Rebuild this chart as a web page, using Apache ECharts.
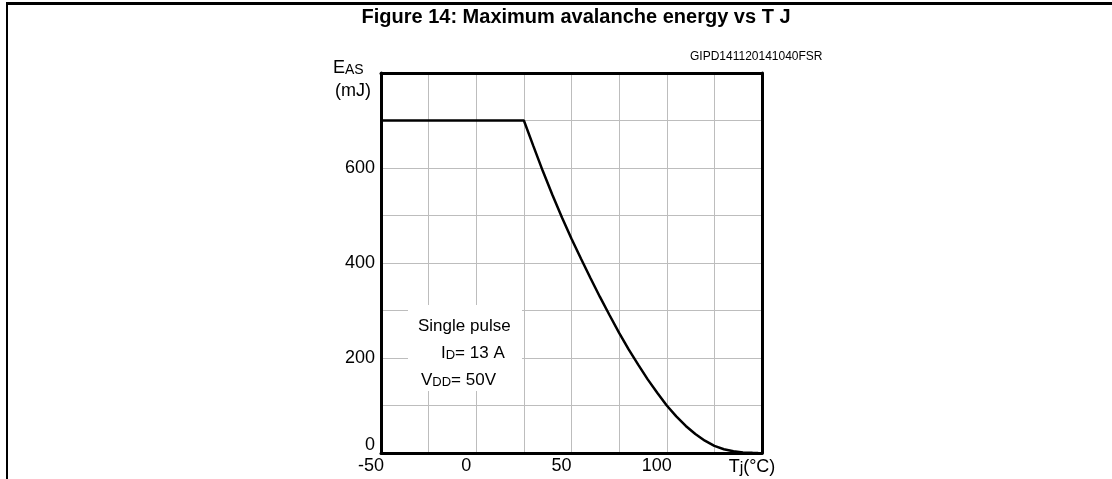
<!DOCTYPE html>
<html><head><meta charset="utf-8">
<script src="https://cdn.jsdelivr.net/npm/echarts@6/dist/echarts.min.js"></script>
<style>html,body{margin:0;padding:0;background:#fff}#c{width:1112px;height:479px}</style>
</head><body><div id="c"></div>
<script>
const tempC = [-50, 25, 30, 35, 40, 45, 50, 55, 60, 65, 70, 75, 80, 85, 90, 95, 100, 105, 110, 115, 120, 125, 130, 135, 140, 145, 148];
const energyMJ = [700, 700, 646, 593, 543, 496, 451, 409, 368, 328, 290, 253, 218, 186, 155, 127, 100, 77, 57, 40, 26, 15, 8, 3.5, 1.2, 0.3, 0];
const xTickLabels = {'-50': '-50', '0': '0', '50': '50', '100': '100'};
const yTickLabels = {'0': '0', '200': '200', '400': '400', '600': '600'};

const F = 'Liberation Sans, Arial, sans-serif';
const FS = 18;
const chart = echarts.init(document.getElementById('c'));
const hidden = {axisTick: {show: false}, axisLabel: {show: false}, splitLine: {show: false}};
chart.setOption({
  animation: false,
  backgroundColor: '#fff',
  title: {
    text: 'Figure 14: Maximum avalanche energy vs T J',
    left: 571, top: 2, textAlign: 'center',
    textStyle: {fontFamily: F, fontWeight: 'bold', fontSize: 20, color: '#000'}
  },
  grid: {left: 381, right: 350, top: 73, bottom: 26},
  xAxis: [{
    type: 'value', min: -50, max: 150, interval: 25,
    axisLine: {show: true, onZero: false, lineStyle: {color: '#000', width: 3}}, axisTick: {show: false},
    splitLine: {show: true, lineStyle: {color: '#bdbdbd', width: 1}},
    axisLabel: {
      margin: 4, fontFamily: F, fontSize: FS, color: '#000',
      formatter: v => v === 150 ? '{t|T}{s|j}{t|(°C)}' : (xTickLabels[String(v)] || ''),
      rich: {t: {fontFamily: F, fontSize: FS, color: '#000'}, s: {fontFamily: F, fontSize: 16, color: '#000', padding: [4, 0, 0, 0]}},
      padding: [0, 20, 0, 0]
    }
  }, Object.assign({type: 'value', min: -50, max: 150, position: 'top', axisLine: {show: true, onZero: false, lineStyle: {color: '#000', width: 3}}}, hidden)],
  yAxis: [{
    type: 'value', min: 0, max: 800, interval: 100,
    axisLine: {show: true, onZero: false, lineStyle: {color: '#000', width: 3}}, axisTick: {show: false},
    splitLine: {show: true, lineStyle: {color: '#bdbdbd', width: 1}},
    axisLabel: {margin: 6, fontFamily: F, fontSize: FS, color: '#000', verticalAlign: 'middle',
      formatter: v => v === 0 ? '{z|0}' : (yTickLabels[String(v)] || ''),
      rich: {z: {fontFamily: F, fontSize: FS, color: '#000', padding: [0, 0, 16, 0]}}}
  }, Object.assign({type: 'value', min: 0, max: 800, position: 'right', axisLine: {show: true, onZero: false, lineStyle: {color: '#000', width: 3}}}, hidden)],
  series: [{
    type: 'line', data: tempC.map((t, i) => [t, energyMJ[i]]),
    symbol: 'none', smooth: false, lineStyle: {color: '#000', width: 2.5}, z: 3
  }],
  graphic: [
    {type: 'line', shape: {x1: 6, y1: 3.5, x2: 1112, y2: 3.5}, style: {stroke: '#000', lineWidth: 3}},
    {type: 'line', shape: {x1: 7, y1: 3, x2: 7, y2: 479}, style: {stroke: '#000', lineWidth: 2}},
    {type: 'text', left: 690, top: 51, style: {text: 'GIPD141120141040FSR', font: '12px ' + F, fill: '#000'}},
    {type: 'text', left: 333, top: 59, style: {rich: {a: {fontSize: 18, fontFamily: F, fill: '#000'}, b: {fontSize: 14, fontFamily: F, fill: '#000', padding: [4, 0, 0, 0]}}, text: '{a|E}{b|AS}'}},
    {type: 'text', left: 335, top: 82, style: {text: '(mJ)', font: '18px ' + F, fill: '#000'}},
    {type: 'rect', shape: {x: 408, y: 305, width: 114, height: 86}, style: {fill: '#fff', stroke: null}, z: 10},
    {type: 'text', left: 418, top: 318, z: 11, style: {text: 'Single pulse', font: '17px ' + F, fill: '#000'}},
    {type: 'text', left: 441, top: 345, z: 11, style: {rich: {a: {fontSize: 17, fontFamily: F, fill: '#000'}, b: {fontSize: 13, fontFamily: F, fill: '#000', padding: [4, 0, 0, 0]}}, text: '{a|I}{b|D}{a|= 13 A}'}},
    {type: 'text', left: 421, top: 372, z: 11, style: {rich: {a: {fontSize: 17, fontFamily: F, fill: '#000'}, b: {fontSize: 13, fontFamily: F, fill: '#000', padding: [4, 0, 0, 0]}}, text: '{a|V}{b|DD}{a|= 50V}'}}
  ]
});
</script></body></html>
